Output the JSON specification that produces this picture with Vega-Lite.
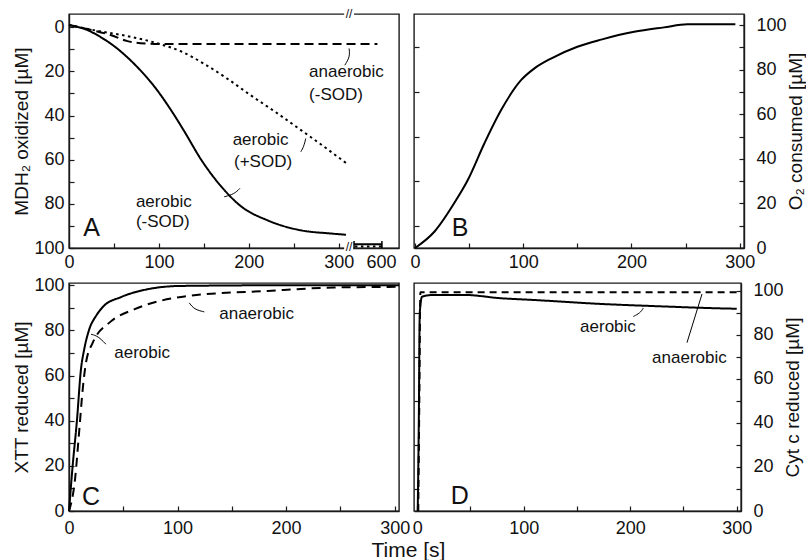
{
  "$schema": "https://vega.github.io/schema/vega-lite/v6.json",
  "padding": {"left": 12, "top": 7, "right": 0, "bottom": 0},
  "columns": 2,
  "spacing": {"row": 35, "column": 15},
  "bounds": "flush",
  "resolve": {"scale": {"x": "independent", "y": "independent"}, "axis": {"x": "independent", "y": "independent"}},
  "config": {
    "font": "Liberation Sans",
    "view": {"stroke": "#1a1a1a", "strokeWidth": 1.4},
    "axis": {"labelFont": "Liberation Sans", "labelFontSize": 18, "labelColor": "#111", "titleFont": "Liberation Sans", "titleFontSize": 19, "titleFontWeight": "normal", "titleColor": "#111", "grid": false, "domainColor": "#1a1a1a", "domainWidth": 1.4, "tickColor": "#1a1a1a", "tickSize": -5, "tickWidth": 1.2, "labelFlush": false, "labelOverlap": false}
  },
  "datasets": {
    "Acurves": [
      {"t": 0, "v": -1, "id": "a1", "s": "solid"}, {"t": 20, "v": 1.2, "id": "a1", "s": "solid"}, {"t": 35, "v": 4.4, "id": "a1", "s": "solid"}, {"t": 50, "v": 8.5, "id": "a1", "s": "solid"}, {"t": 72, "v": 16.4, "id": "a1", "s": "solid"}, {"t": 98, "v": 28.5, "id": "a1", "s": "solid"}, {"t": 115, "v": 38.5, "id": "a1", "s": "solid"}, {"t": 128, "v": 47, "id": "a1", "s": "solid"}, {"t": 147, "v": 60, "id": "a1", "s": "solid"}, {"t": 169, "v": 72, "id": "a1", "s": "solid"}, {"t": 191, "v": 81, "id": "a1", "s": "solid"}, {"t": 221, "v": 87.5, "id": "a1", "s": "solid"}, {"t": 258, "v": 92, "id": "a1", "s": "solid"}, {"t": 290, "v": 93.4, "id": "a1", "s": "solid"}, {"t": 308, "v": 94, "id": "a1", "s": "solid"},
      {"t": 0, "v": -1, "id": "a2", "s": "dotA"}, {"t": 30, "v": 1.5, "id": "a2", "s": "dotA"}, {"t": 65, "v": 4, "id": "a2", "s": "dotA"}, {"t": 100, "v": 7.5, "id": "a2", "s": "dotA"}, {"t": 125, "v": 11, "id": "a2", "s": "dotA"}, {"t": 150, "v": 16.5, "id": "a2", "s": "dotA"}, {"t": 175, "v": 23, "id": "a2", "s": "dotA"}, {"t": 202, "v": 30.8, "id": "a2", "s": "dotA"}, {"t": 230, "v": 38.5, "id": "a2", "s": "dotA"}, {"t": 258, "v": 46.6, "id": "a2", "s": "dotA"}, {"t": 285, "v": 54.5, "id": "a2", "s": "dotA"}, {"t": 308, "v": 61.5, "id": "a2", "s": "dotA"},
      {"t": 0, "v": -1, "id": "a3", "s": "dashA"}, {"t": 20, "v": 0.8, "id": "a3", "s": "dashA"}, {"t": 47, "v": 3.6, "id": "a3", "s": "dashA"}, {"t": 65, "v": 6.3, "id": "a3", "s": "dashA"}, {"t": 85, "v": 7.4, "id": "a3", "s": "dashA"}, {"t": 100, "v": 7.6, "id": "a3", "s": "dashA"}, {"t": 200, "v": 7.6, "id": "a3", "s": "dashA"}, {"t": 343, "v": 7.6, "id": "a3", "s": "dashA"},
      {"t": 317, "v": 98.3, "id": "a4", "s": "solid"}, {"t": 348, "v": 98.3, "id": "a4", "s": "solid"},
      {"t": 318, "v": 99.3, "id": "a5", "s": "dotA"}, {"t": 347, "v": 99.3, "id": "a5", "s": "dotA"}
    ],
    "Acaps": [{"t": 317, "v": 96.8, "v2": 100}, {"t": 348, "v": 96.8, "v2": 100}],
    "Arect": [{"t": 306, "t2": 317, "v": -7.5, "v2": -4.8}, {"t": 306, "t2": 316, "v": 99.3, "v2": 101.5}],
    "Abreak": [{"t": 311.5, "v": -6, "label": "//"}, {"t": 311.5, "v": 99.5, "label": "//"}],
    "Aleaders": [
      {"t": 311.5, "v": 9.6, "id": "l1", "k": 1}, {"t": 312.5, "v": 13.4, "id": "l1", "k": 2}, {"t": 306.7, "v": 17.2, "id": "l1", "k": 3},
      {"t": 263.3, "v": 50.4, "id": "l2", "k": 1}, {"t": 261, "v": 54.2, "id": "l2", "k": 2}, {"t": 257.8, "v": 56.4, "id": "l2", "k": 3},
      {"t": 172.6, "v": 76.8, "id": "l3", "k": 1}, {"t": 183.7, "v": 75.6, "id": "l3", "k": 2}, {"t": 190, "v": 73, "id": "l3", "k": 3}
    ],
    "Atext": [
      {"t": 267, "v": 20.4, "label": "anaerobic"}, {"t": 267, "v": 30.8, "label": "(-SOD)"},
      {"t": 182, "v": 51.1, "label": "aerobic"}, {"t": 183.5, "v": 61, "label": "(+SOD)"},
      {"t": 74.4, "v": 79, "label": "aerobic"}, {"t": 74.4, "v": 88, "label": "(-SOD)"}
    ],
    "Aletter": [{"t": 25, "v": 91, "label": "A"}],
    "Bcurve": [
      {"t": 0, "v": 0}, {"t": 17.8, "v": 7.3}, {"t": 37.8, "v": 21.4}, {"t": 48.6, "v": 30.4}, {"t": 64, "v": 46.9}, {"t": 79.4, "v": 61.8}, {"t": 97.9, "v": 75.3}, {"t": 110, "v": 80.5}, {"t": 125.6, "v": 85}, {"t": 150, "v": 90.3}, {"t": 172, "v": 93.5}, {"t": 202.5, "v": 97}, {"t": 230, "v": 99}, {"t": 251.7, "v": 100.4}, {"t": 296, "v": 100.4}
    ],
    "Bletter": [{"t": 41.5, "v": 9, "label": "B"}],
    "Ccurves": [
      {"t": 0, "v": 0, "id": "c1", "s": "solid"}, {"t": 3.3, "v": 19.7, "id": "c1", "s": "solid"}, {"t": 7.3, "v": 40, "id": "c1", "s": "solid"}, {"t": 11, "v": 62.7, "id": "c1", "s": "solid"}, {"t": 14, "v": 71.6, "id": "c1", "s": "solid"}, {"t": 18.6, "v": 80.4, "id": "c1", "s": "solid"}, {"t": 25, "v": 86.5, "id": "c1", "s": "solid"}, {"t": 32, "v": 90.8, "id": "c1", "s": "solid"}, {"t": 47.6, "v": 94.7, "id": "c1", "s": "solid"}, {"t": 72, "v": 98.2, "id": "c1", "s": "solid"}, {"t": 103, "v": 99.7, "id": "c1", "s": "solid"}, {"t": 200, "v": 100, "id": "c1", "s": "solid"}, {"t": 304, "v": 100, "id": "c1", "s": "solid"},
      {"t": 0, "v": 0, "id": "c2", "s": "dashC"}, {"t": 5.5, "v": 13.8, "id": "c2", "s": "dashC"}, {"t": 9.5, "v": 36, "id": "c2", "s": "dashC"}, {"t": 12.6, "v": 53.8, "id": "c2", "s": "dashC"}, {"t": 15.6, "v": 65.6, "id": "c2", "s": "dashC"}, {"t": 21.8, "v": 74.5, "id": "c2", "s": "dashC"}, {"t": 38.6, "v": 84, "id": "c2", "s": "dashC"}, {"t": 60, "v": 89.3, "id": "c2", "s": "dashC"}, {"t": 109, "v": 95.2, "id": "c2", "s": "dashC"}, {"t": 183, "v": 97.5, "id": "c2", "s": "dashC"}, {"t": 244, "v": 99, "id": "c2", "s": "dashC"}, {"t": 304, "v": 99.3, "id": "c2", "s": "dashC"}
    ],
    "Cleaders": [
      {"t": 110.8, "v": 92.2, "id": "l1", "k": 1}, {"t": 115.4, "v": 89.3, "id": "l1", "k": 2}, {"t": 124.6, "v": 88.2, "id": "l1", "k": 3},
      {"t": 20.3, "v": 78.3, "id": "l2", "k": 1}, {"t": 26.7, "v": 77.5, "id": "l2", "k": 2}, {"t": 34, "v": 73.9, "id": "l2", "k": 3}
    ],
    "Ctext": [{"t": 138.4, "v": 87.1, "label": "anaerobic"}, {"t": 41.7, "v": 70.2, "label": "aerobic"}],
    "Cletter": [{"t": 20.3, "v": 6.3, "label": "C"}],
    "Dcurves": [
      {"t": 1, "v": 0, "id": "d1", "s": "dashD"}, {"t": 2, "v": 50, "id": "d1", "s": "dashD"}, {"t": 3, "v": 99.4, "id": "d1", "s": "dashD"}, {"t": 301, "v": 99.4, "id": "d1", "s": "dashD"},
      {"t": 0.5, "v": 0, "id": "d2", "s": "solid"}, {"t": 1.5, "v": 40, "id": "d2", "s": "solid"}, {"t": 2.4, "v": 90, "id": "d2", "s": "solid"}, {"t": 4.6, "v": 97.4, "id": "d2", "s": "solid"}, {"t": 15.5, "v": 98.2, "id": "d2", "s": "solid"}, {"t": 43.6, "v": 98.2, "id": "d2", "s": "solid"}, {"t": 78, "v": 96.7, "id": "d2", "s": "solid"}, {"t": 109, "v": 95.9, "id": "d2", "s": "solid"}, {"t": 172, "v": 94.1, "id": "d2", "s": "solid"}, {"t": 234, "v": 92.9, "id": "d2", "s": "solid"}, {"t": 275, "v": 92.2, "id": "d2", "s": "solid"}, {"t": 300, "v": 91.9, "id": "d2", "s": "solid"}
    ],
    "Dleaders": [
      {"t": 202.9, "v": 88.4, "id": "l1", "k": 1}, {"t": 209.2, "v": 89.9, "id": "l1", "k": 2}, {"t": 212.3, "v": 92.2, "id": "l1", "k": 3},
      {"t": 253.3, "v": 76.5, "id": "l2", "k": 1}, {"t": 267.4, "v": 98.6, "id": "l2", "k": 2}
    ],
    "Dtext": [{"t": 152.9, "v": 83.8, "label": "aerobic"}, {"t": 220.5, "v": 69.7, "label": "anaerobic"}],
    "Dletter": [{"t": 40, "v": 7, "label": "D"}]
  },
  "concat": [
    {
      "width": 330, "height": 234,
      "encoding": {
        "x": {"field": "t", "type": "quantitative", "scale": {"domain": [0, 367], "nice": false, "zero": false},
              "axis": {"values": [0, 50, 100, 150, 200, 250, 300, 347], "labelExpr": "datum.value == 347 ? '600' : (datum.value % 100 == 0 ? datum.label : '')", "title": null, "labelPadding": 10}},
        "y": {"field": "v", "type": "quantitative", "scale": {"domain": [-6, 100], "reverse": true, "nice": false, "zero": false},
              "axis": {"values": [0, 10, 20, 30, 40, 50, 60, 70, 80, 90, 100], "labelExpr": "datum.value % 20 == 0 ? datum.label : ''", "title": "MDH₂ oxidized [µM]", "labelPadding": 10, "titlePadding": 2}}
      },
      "layer": [
        {
          "data": {"name": "Acurves"},
          "mark": {"type": "line", "color": "black", "strokeWidth": 2, "interpolate": "monotone"},
          "encoding": {
            "detail": {"field": "id"},
            "strokeDash": {"field": "s", "type": "nominal", "legend": null, "scale": {"domain": ["solid", "dashA", "dotA", "dashC", "dashD"], "range": [[1, 0], [9, 5], [2.5, 3.5], [9, 6], [7, 5]]}}
          }
        },
        {"data": {"name": "Acaps"}, "mark": {"type": "rule", "color": "black", "strokeWidth": 1.5}, "encoding": {"y2": {"field": "v2"}}},
        {"data": {"name": "Arect"}, "mark": {"type": "rect", "color": "white"}, "encoding": {"x2": {"field": "t2"}, "y2": {"field": "v2"}}},
        {"data": {"name": "Abreak"}, "mark": {"type": "text", "fontSize": 12, "align": "center", "baseline": "middle", "color": "#111"}, "encoding": {"text": {"field": "label"}}},
        {"data": {"name": "Aleaders"}, "mark": {"type": "line", "color": "black", "strokeWidth": 1, "interpolate": "basis"}, "encoding": {"detail": {"field": "id"}, "order": {"field": "k"}}},
        {"data": {"name": "Atext"}, "mark": {"type": "text", "fontSize": 17, "align": "left", "baseline": "middle", "color": "#111"}, "encoding": {"text": {"field": "label"}}},
        {"data": {"name": "Aletter"}, "mark": {"type": "text", "fontSize": 25, "align": "center", "baseline": "middle", "color": "#111"}, "encoding": {"text": {"field": "label"}}}
      ]
    },
    {
      "width": 330, "height": 234,
      "resolve": {"axis": {"y": "independent"}},
      "encoding": {
        "x": {"field": "t", "type": "quantitative", "scale": {"domain": [-1, 304], "nice": false, "zero": false},
              "axis": {"values": [0, 50, 100, 150, 200, 250, 300], "labelExpr": "datum.value % 100 == 0 ? datum.label : ''", "title": null, "labelPadding": 10}},
        "y": {"field": "v", "type": "quantitative", "scale": {"domain": [0, 105], "nice": false, "zero": false},
              "axis": {"orient": "right", "values": [0, 10, 20, 30, 40, 50, 60, 70, 80, 90, 100], "labelExpr": "datum.value % 20 == 0 ? datum.label : ''", "title": "O₂ consumed [µM]", "titleAngle": 270, "titleBaseline": "top", "labelPadding": 17, "titlePadding": 0}}
      },
      "layer": [
        {
          "layer": [
            {"data": {"name": "Bcurve"}, "mark": {"type": "line", "color": "black", "strokeWidth": 2, "interpolate": "monotone"}},
            {"data": {"name": "Bletter"}, "mark": {"type": "text", "fontSize": 25, "align": "center", "baseline": "middle", "color": "#111"}, "encoding": {"text": {"field": "label"}}}
          ]
        },
        {
          "data": {"name": "Bcurve"},
          "mark": {"type": "line", "opacity": 0},
          "encoding": {
            "y": {"field": "v", "type": "quantitative", "axis": {"orient": "left", "values": [10, 30, 50, 70, 90], "labels": false, "domain": false, "title": null}}
          }
        }
      ]
    },
    {
      "width": 330, "height": 228,
      "encoding": {
        "x": {"field": "t", "type": "quantitative", "scale": {"domain": [0, 304], "nice": false, "zero": false},
              "axis": {"values": [0, 50, 100, 150, 200, 250, 300], "labelExpr": "datum.value % 100 == 0 ? datum.label : ''", "title": "Time [s]", "titleX": 339, "titleY": 45, "titleAlign": "center", "titleBaseline": "alphabetic", "titleFontSize": 21, "labelPadding": 13}},
        "y": {"field": "v", "type": "quantitative", "scale": {"domain": [0, 101], "nice": false, "zero": false},
              "axis": {"values": [0, 10, 20, 30, 40, 50, 60, 70, 80, 90, 100], "labelExpr": "datum.value % 20 == 0 ? datum.label : ''", "title": "XTT reduced [µM]", "labelPadding": 10, "titlePadding": 2}}
      },
      "layer": [
        {
          "data": {"name": "Ccurves"},
          "mark": {"type": "line", "color": "black", "strokeWidth": 2, "interpolate": "monotone"},
          "encoding": {
            "detail": {"field": "id"},
            "strokeDash": {"field": "s", "type": "nominal", "legend": null, "scale": {"domain": ["solid", "dashA", "dotA", "dashC", "dashD"], "range": [[1, 0], [9, 5], [2.5, 3.5], [9, 6], [7, 5]]}}
          }
        },
        {"data": {"name": "Cleaders"}, "mark": {"type": "line", "color": "black", "strokeWidth": 1, "interpolate": "basis"}, "encoding": {"detail": {"field": "id"}, "order": {"field": "k"}}},
        {"data": {"name": "Ctext"}, "mark": {"type": "text", "fontSize": 17, "align": "left", "baseline": "middle", "color": "#111"}, "encoding": {"text": {"field": "label"}}},
        {"data": {"name": "Cletter"}, "mark": {"type": "text", "fontSize": 25, "align": "center", "baseline": "middle", "color": "#111"}, "encoding": {"text": {"field": "label"}}}
      ]
    },
    {
      "width": 327, "height": 228,
      "resolve": {"axis": {"y": "independent"}},
      "encoding": {
        "x": {"field": "t", "type": "quantitative", "scale": {"domain": [-3, 304], "nice": false, "zero": false},
              "axis": {"values": [0, 50, 100, 150, 200, 250, 300], "labelExpr": "datum.value % 100 == 0 ? datum.label : ''", "title": null, "labelPadding": 13}},
        "y": {"field": "v", "type": "quantitative", "scale": {"domain": [0, 103.6], "nice": false, "zero": false},
              "axis": {"orient": "right", "values": [0, 10, 20, 30, 40, 50, 60, 70, 80, 90, 100], "labelExpr": "datum.value % 20 == 0 ? datum.label : ''", "title": "Cyt c reduced [µM]", "titleAngle": 270, "titleBaseline": "top", "labelPadding": 17, "titlePadding": 0}}
      },
      "layer": [
        {
          "layer": [
            {
              "data": {"name": "Dcurves"},
              "mark": {"type": "line", "color": "black", "strokeWidth": 2, "interpolate": "monotone"},
              "encoding": {
                "detail": {"field": "id"},
                "strokeDash": {"field": "s", "type": "nominal", "legend": null, "scale": {"domain": ["solid", "dashA", "dotA", "dashC", "dashD"], "range": [[1, 0], [9, 5], [2.5, 3.5], [9, 6], [7, 5]]}}
              }
            },
            {"data": {"name": "Dleaders"}, "mark": {"type": "line", "color": "black", "strokeWidth": 1, "interpolate": "basis"}, "encoding": {"detail": {"field": "id"}, "order": {"field": "k"}}},
            {"data": {"name": "Dtext"}, "mark": {"type": "text", "fontSize": 17, "align": "left", "baseline": "middle", "color": "#111"}, "encoding": {"text": {"field": "label"}}},
            {"data": {"name": "Dletter"}, "mark": {"type": "text", "fontSize": 25, "align": "center", "baseline": "middle", "color": "#111"}, "encoding": {"text": {"field": "label"}}}
          ]
        },
        {
          "data": {"name": "Dcurves"},
          "mark": {"type": "line", "opacity": 0},
          "encoding": {
            "y": {"field": "v", "type": "quantitative", "axis": {"orient": "left", "values": [10, 30, 50, 70, 90], "labels": false, "domain": false, "title": null}},
            "detail": {"field": "id"}
          }
        }
      ]
    }
  ]
}
